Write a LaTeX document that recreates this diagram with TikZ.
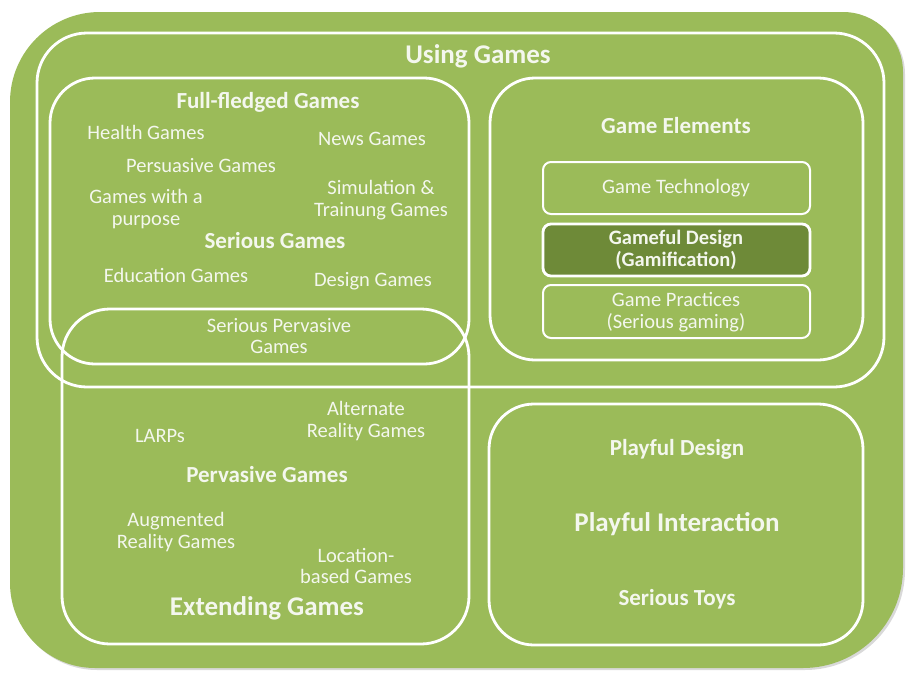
\documentclass[tikz,border=0pt]{standalone}
\usepackage{fontspec}
\setmainfont{Carlito}
\usepackage{tikz}
\usetikzlibrary{positioning,shadows}
\definecolor{ugGreen}{HTML}{9BBB59}
\definecolor{ugDark}{HTML}{6E8A38}
\definecolor{ugText}{HTML}{F4F7EE}
\tikzset{
  lbl/.style={text=ugText, font=\fontsize{20.5}{21.5}\selectfont, align=center, inner sep=1pt},
  head/.style={lbl, font=\bfseries\fontsize{23}{24}\selectfont},
  big/.style={lbl, font=\bfseries\fontsize{27}{28}\selectfont},
  frame/.style={draw=white, line width=2.8pt, rounded corners=45pt},
  elem/.style={draw=white, line width=2pt, rounded corners=8pt}
}
\begin{document}
\begin{tikzpicture}[x=1pt, y=-1pt]
  \useasboundingbox (0,0) rectangle (906,675);
  % background
  \fill[ugGreen, drop shadow={opacity=0.3, shadow xshift=2pt, shadow yshift=-2pt}]
    (10,300) [rounded corners=90pt] -- (10,12) [rounded corners=60pt] -- (903,12)
    [rounded corners=100pt] -- (903,668) [rounded corners=85pt] -- (10,668) -- cycle;
  % frames
  \draw[frame, rounded corners=50pt] (37,33) rectangle (884,387);
  \draw[frame] (50,78) rectangle (469,364);
  \draw[frame] (490,78) rectangle (863,360);
  \draw[frame, rounded corners=48pt] (62,309) rectangle (469,644);
  \draw[frame] (489,404) rectangle (863,645);
  \draw[elem] (543,162) rectangle (810,214);
  \draw[elem, fill=ugDark, line width=2.8pt] (543,224) rectangle (810,276);
  \draw[elem] (543,285) rectangle (810,338);

  % using games
  \node[big] (using) at (478,56) {Using Games};
  \node[head] (full) at (268,102) {Full-fledged Games};
  \node[lbl] (health) at (146,132) {Health Games};
  \node[lbl] (news) at (372,139) {News Games};
  \node[lbl] (persu) at (201,166) {Persuasive Games};
  \node[lbl] (purpose) at (146,209) {Games with a\\purpose};
  \node[lbl] (simul) at (381,200) {Simulation \&\\Trainung Games};
  \node[head] (serious) at (275,241) {Serious Games};
  \node[lbl] (edu) at (176,275) {Education Games};
  \node[lbl] (design) at (373,281) {Design Games};
  \node[lbl] (serperv) at (279,336) {Serious Pervasive\\Games};

  % game elements
  \node[head] (elements) at (676,126) {Game Elements};
  \node[lbl] (tech) at (676,188) {Game Technology};
  \node[head, font=\bfseries\fontsize{20.5}{21.5}\selectfont] (gameful) at (676,250) {Gameful Design\\(Gamification)};
  \node[lbl] (practice) at (676,312) {Game Practices\\(Serious gaming)};

  % extending games
  \node[lbl] (larp) at (160,436) {LARPs};
  \node[lbl] (arg) at (366,421) {Alternate\\Reality Games};
  \node[head] (perv) at (267,475) {Pervasive Games};
  \node[lbl] (aug) at (176,532) {Augmented\\Reality Games};
  \node[lbl] (loc) at (356,566) {Location-\\based Games};
  \node[big] (extend) at (267,608) {Extending Games};

  % playful
  \node[head] (pdesign) at (677,449) {Playful Design};
  \node[big] (pinter) at (677,524) {Playful Interaction};
  \node[head] (toys) at (677,599) {Serious Toys};
\end{tikzpicture}
\end{document}
